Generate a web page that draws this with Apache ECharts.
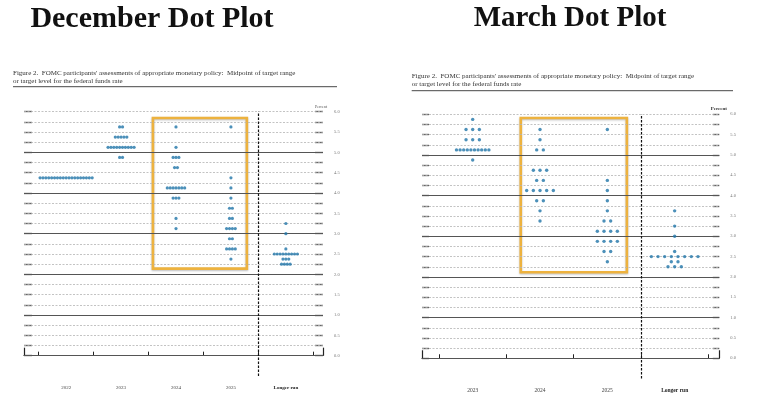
<!DOCTYPE html>
<html><head><meta charset="utf-8">
<script src="https://cdn.jsdelivr.net/npm/echarts@6/dist/echarts.min.js"></script>
<style>html,body{margin:0;padding:0;background:#fff}#c{width:757px;height:396px}</style>
</head><body><div id="c"></div>
<script>
// ---- Data ----
const decCategories = ['2022', '2023', '2024', '2025', 'Longer run'];
const marCategories = ['2023', '2024', '2025', 'Longer run'];
// each entry: [rate (midpoint, %), number of participants]
const dec2022 = [[4.375, 19]];
const dec2023 = [[5.625, 2], [5.375, 5], [5.125, 10], [4.875, 2]];
const dec2024 = [[5.625, 1], [5.125, 1], [4.875, 3], [4.625, 2], [4.125, 7], [3.875, 3], [3.375, 1], [3.125, 1]];
const dec2025 = [[5.625, 1], [4.375, 1], [4.125, 1], [3.875, 1], [3.625, 2], [3.375, 2], [3.125, 4], [2.875, 2], [2.625, 4], [2.375, 1]];
const decLonger = [[3.25, 1], [3.0, 1], [2.625, 1], [2.5, 9], [2.375, 3], [2.25, 4]];
const mar2023 = [[5.875, 1], [5.625, 3], [5.375, 3], [5.125, 10], [4.875, 1]];
const mar2024 = [[5.625, 1], [5.375, 1], [5.125, 2], [4.625, 3], [4.375, 2], [4.125, 5], [3.875, 2], [3.625, 1], [3.375, 1]];
const mar2025 = [[5.625, 1], [4.375, 1], [4.125, 1], [3.875, 1], [3.625, 1], [3.375, 2], [3.125, 4], [2.875, 4], [2.625, 2], [2.375, 1]];
const marLonger = [[3.625, 1], [3.25, 1], [3.0, 1], [2.625, 1], [2.5, 8], [2.375, 2], [2.25, 3]];
const yLabelValues = [0, 0.5, 1, 1.5, 2, 2.5, 3, 3.5, 4, 4.5, 5, 5.5, 6];
const captionText = "Figure 2.  FOMC participants' assessments of appropriate monetary policy:  Midpoint of target range\nor target level for the federal funds rate";

// ---- Helpers ----
const SERIF = '"Liberation Serif", "DejaVu Serif", serif';
const gridLevels = [];
for (let i = 0; i <= 24; i++) gridLevels.push(i * 0.25);

function dots(columns, spacingFn) {
  const out = [];
  columns.forEach((col, ci) => {
    col.forEach(([rate, n]) => {
      const sp = spacingFn(n);
      for (let j = 0; j < n; j++) out.push([ci + 1 + (j - (n - 1) / 2) * sp, rate]);
    });
  });
  return out;
}
function gridLines(dividerX) {
  const d = gridLevels.map(v => {
    const solid = (v % 1 === 0) && v < 6;
    return {
      yAxis: v,
      lineStyle: solid ? { color: '#555', width: 1, type: 'solid' }
                       : { color: '#b4b4b4', width: 0.8, type: [2, 1.5] }
    };
  });
  d.push({ xAxis: dividerX, lineStyle: { color: '#111', width: 1.2, type: [2.5, 1.5] } });
  return d;
}

const decDots = dots([dec2022, dec2023, dec2024, dec2025, decLonger], () => 0.0527);
const marDots = dots([mar2023, mar2024, mar2025, marLonger], n => n >= 10 ? 0.0535 : 0.099);

const tickValsDec = [0.5, 1.5, 2.5, 3.5, 4.5, 5.5];
const tickValsMar = [0.5, 1.5, 2.5, 3.5, 4.5];
const decX = [0.233, 5.676], marX = [0.247, 4.663];

function mainX(gridIndex, range, ticks, cats, fs) {
  return {
    type: 'value', gridIndex, min: range[0], max: range[1], position: 'bottom',
    axisLine: { show: true, lineStyle: { color: '#222', width: 1.2 } },
    axisTick: { show: true, inside: true, length: 4, customValues: ticks, lineStyle: { color: '#222', width: 1 } },
    axisLabel: {
      show: true, customValues: cats.map((_, i) => i + 1), margin: 9,
      formatter: v => { const c = cats[Math.round(v) - 1]; return c === 'Longer run' ? '{b|' + c + '}' : c; },
      fontFamily: SERIF, fontSize: fs, color: '#444',
      rich: { b: { fontFamily: SERIF, fontSize: fs, fontWeight: 'bold', color: '#222' } }
    },
    splitLine: { show: false }
  };
}
function capX(gridIndex, range) {
  return {
    type: 'value', gridIndex, min: range[0], max: range[1], position: 'bottom',
    axisLine: { show: false },
    axisTick: { show: true, inside: true, length: 8, customValues: range, lineStyle: { color: '#222', width: 1.2 } },
    axisLabel: { show: false }, splitLine: { show: false }
  };
}
function yAx(gridIndex, position, showLabels, tickLen, fs) {
  return {
    type: 'value', gridIndex, position, min: -0.5, max: 6, interval: 0.5,
    axisLine: { show: false },
    axisTick: { show: true, inside: true, length: tickLen, customValues: gridLevels, lineStyle: { color: '#666', width: 1.4 } },
    axisLabel: {
      show: showLabels, customValues: yLabelValues, margin: 11,
      formatter: v => v.toFixed(1), fontFamily: SERIF, fontSize: fs, color: '#777'
    },
    splitLine: { show: false }
  };
}

const chart = echarts.init(document.getElementById('c'), null, { renderer: 'canvas' });
chart.setOption({
  animation: false,
  backgroundColor: '#fff',
  grid: [
    { left: 24, right: 434, top: 111.7, bottom: 20 },
    { left: 422, right: 37.7, top: 114.3, bottom: 17.4 }
  ],
  xAxis: [
    mainX(0, decX, tickValsDec, decCategories, 5),
    capX(0, decX),
    mainX(1, marX, tickValsMar, marCategories, 5.5),
    capX(1, marX)
  ],
  yAxis: [
    yAx(0, 'left', false, 8, 4.5),
    yAx(0, 'right', true, 8, 4.5),
    yAx(1, 'left', false, 7, 4.5),
    yAx(1, 'right', true, 6.5, 4.5)
  ],
  series: [
    {
      type: 'scatter', xAxisIndex: 0, yAxisIndex: 0, data: [], z: 1, silent: true,
      markLine: { silent: true, symbol: ['none', 'none'], label: { show: false }, animation: false, data: gridLines(4.5) }
    },
    {
      type: 'scatter', xAxisIndex: 0, yAxisIndex: 0, data: decDots, z: 5, symbolSize: 3.2,
      itemStyle: { color: '#1f74a8' }, silent: true,
      markArea: {
        silent: true,
        itemStyle: { color: 'rgba(0,0,0,0)', borderColor: '#EDB23E', borderWidth: 2.6,
                     shadowColor: 'rgba(0,0,0,0.25)', shadowBlur: 2, shadowOffsetY: 1 },
        data: [[{ xAxis: 2.58, yAxis: 5.845 }, { xAxis: 4.29, yAxis: 2.14 }]]
      }
    },
    {
      type: 'scatter', xAxisIndex: 2, yAxisIndex: 2, data: [], z: 1, silent: true,
      markLine: { silent: true, symbol: ['none', 'none'], label: { show: false }, animation: false, data: gridLines(3.5) }
    },
    {
      type: 'scatter', xAxisIndex: 2, yAxisIndex: 2, data: marDots, z: 5, symbolSize: 3.4,
      itemStyle: { color: '#1f74a8' }, silent: true,
      markArea: {
        silent: true,
        itemStyle: { color: 'rgba(0,0,0,0)', borderColor: '#EDB23E', borderWidth: 2.6,
                     shadowColor: 'rgba(0,0,0,0.25)', shadowBlur: 2, shadowOffsetY: 1 },
        data: [[{ xAxis: 1.714, yAxis: 5.91 }, { xAxis: 3.29, yAxis: 2.115 }]]
      }
    }
  ],
  graphic: [
    { type: 'text', x: 152, y: 19, style: { text: 'December Dot Plot', font: 'bold 30px ' + SERIF, fill: '#111', textAlign: 'center', textVerticalAlign: 'middle' } },
    { type: 'text', x: 570, y: 19, style: { text: 'March Dot Plot', font: 'bold 29px ' + SERIF, fill: '#111', textAlign: 'center', textVerticalAlign: 'middle' } },
    { type: 'text', x: 13, y: 69.5, style: { text: captionText, font: '7px ' + SERIF, fill: '#333', lineHeight: 7.6 } },
    { type: 'text', x: 411.7, y: 71.7, style: { text: captionText, font: '7px ' + SERIF, fill: '#333', lineHeight: 8.3 } },
    { type: 'line', shape: { x1: 13, y1: 86.7, x2: 337, y2: 86.7 }, style: { stroke: '#333', lineWidth: 0.9 } },
    { type: 'line', shape: { x1: 411.7, y1: 90.7, x2: 733, y2: 90.7 }, style: { stroke: '#333', lineWidth: 0.9 } },
    { type: 'text', x: 315, y: 104.8, style: { text: 'Percent', font: '4px ' + SERIF, fill: '#555' } },
    { type: 'text', x: 710.7, y: 106.5, style: { text: 'Percent', font: 'bold 5px ' + SERIF, fill: '#333' } }
  ]
});
</script>
</body></html>
